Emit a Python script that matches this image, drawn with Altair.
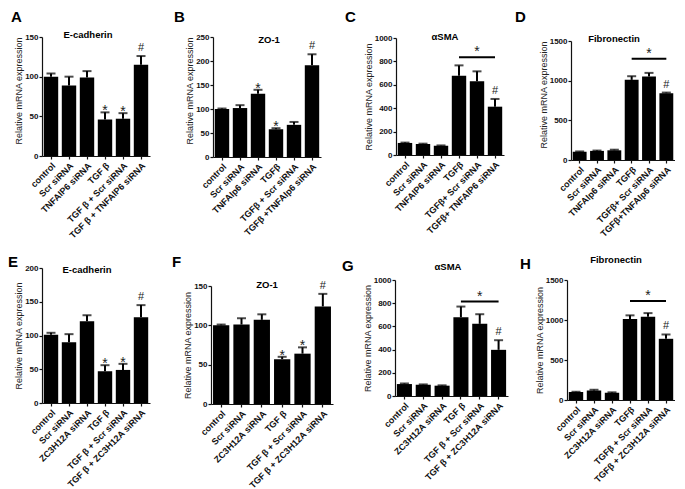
import altair as alt
import pandas as pd

FONT = "Liberation Sans"

# ---------------- data ----------------
cond_A = ["control", "Scr siRNA", "TNFAIP6 siRNA", "TGF β", "TGF β + Scr siRNA", "TGF β + TNFAIP6 siRNA"]
mean_A = [100, 89, 99, 46, 47, 115]
err_A = [4, 11, 8, 9, 7, 11]
sig_A = ["", "", "", "*", "*", "#"]

cond_B = ["control", "Scr siRNA", "TNFAIp6 siRNA", "TGFβ", "TGFβ + Scr siRNA", "TGFβ +TNFAIp6 siRNA"]
mean_B = [100, 102, 132, 58, 67, 191]
err_B = [1, 6, 8, 2, 6, 23]
sig_B = ["", "", "*", "*", "", "#"]

cond_C = ["control", "Scr siRNA", "TNFAIP6 siRNA", "TGFβ", "TGFβ+ Scr siRNA", "TGFβ+ TNFAIP6 siRNA"]
mean_C = [103, 94, 80, 678, 630, 413]
err_C = [3, 3, 2, 88, 85, 66]
sig_C = ["", "", "", "", "", "#"]
bracket_C = 835

cond_D = ["control", "Scr siRNA", "TNFAIp6 siRNA", "TGFβ", "TGFβ+ Scr siRNA", "TGFβ+TNFAIp6 siRNA"]
mean_D = [105, 115, 122, 1010, 1052, 842]
err_D = [3, 4, 8, 46, 46, 8]
sig_D = ["", "", "", "", "", "#"]
bracket_D = 1275

cond_E = ["control", "Scr siRNA", "ZC3H12A siRNA", "TGF β", "TGF β + Scr siRNA", "TGF β + ZC3H12A siRNA"]
mean_E = [101, 90, 121, 47, 49, 127]
err_E = [3, 12, 9, 9, 9, 18]
sig_E = ["", "", "", "*", "*", "#"]

cond_F = ["control", "Scr siRNA", "ZC3H12A siRNA", "TGF β", "TGF β + Scr siRNA", "TGF β + ZC3H12A siRNA"]
mean_F = [100, 101, 107, 57, 64, 124]
err_F = [1, 8, 7, 3, 8, 16]
sig_F = ["", "", "", "*", "*", "#"]

cond_G = ["control", "Scr siRNA", "ZC3H12A siRNA", "TGF β", "TGF β + Scr siRNA", "TGF β + ZC3H12A siRNA"]
mean_G = [103, 97, 89, 679, 622, 398]
err_G = [5, 3, 3, 92, 83, 83]
sig_G = ["", "", "", "", "", "#"]
bracket_G = 814

cond_H = ["control", "Scr siRNA", "ZC3H12A siRNA", "TGFβ", "TGFβ + Scr siRNA", "TGFβ + ZC3H12A siRNA"]
mean_H = [100, 118, 92, 1012, 1040, 765]
err_H = [3, 10, 4, 46, 46, 54]
sig_H = ["", "", "", "", "", "#"]
bracket_H = 1237

ticks_A = [0, 50, 100, 150]
ticks_B = [0, 50, 100, 150, 200, 250]
ticks_C = [0, 200, 400, 600, 800, 1000]
ticks_D = [0, 500, 1000, 1500]
ticks_E = [0, 50, 100, 150, 200]
ticks_F = [0, 50, 100, 150]
ticks_G = [0, 200, 400, 600, 800, 1000]
ticks_H = [0, 500, 1000, 1500]

YTITLE = "Relative mRNA expression"


def make_panel(letter, gene, cond, mean, err, sig, bracket, yvals,
               w, h, off, gap, lx, ly, gx, gy, anchor):
    df = pd.DataFrame({"cond": cond, "mean": mean, "err": err, "sig": sig})
    df["top"] = df["mean"] + df["err"]

    xs = alt.Scale(domain=cond, range=[0, w], paddingInner=0.2, paddingOuter=0.1)
    xaxis = alt.Axis(title=None, labelAngle=-45, labelAlign="right",
                     labelBaseline="top", labelPadding=2, tickSize=3,
                     labelLimit=300, labelFontSize=9)
    ys = alt.Scale(domain=[0, yvals[-1]], nice=False, range=[off + h, off])
    yaxis = alt.Axis(title=YTITLE, values=yvals, format="d", titleAnchor=anchor,
                     tickSize=3, labelPadding=1, titlePadding=1)

    def X(field="cond"):
        return alt.X(f"{field}:N", scale=xs, axis=xaxis)

    def Y(field):
        return alt.Y(f"{field}:Q", scale=ys, axis=yaxis)

    base = alt.Chart(df)
    bars = base.mark_bar(color="black").encode(x=X(), y=Y("mean"))
    stem = base.mark_rule(color="black", strokeWidth=2).encode(
        x=X(), y=Y("mean"), y2="top:Q")
    cap = base.mark_tick(color="black", thickness=2, size=9).encode(
        x=X(), y=Y("top"))
    stars = base.transform_filter("datum.sig == '*'").mark_text(
        font=FONT, fontSize=14, baseline="alphabetic", dy=3, color="#222"
    ).encode(x=X(), y=Y("top"), text="sig:N")
    hashes = base.transform_filter("datum.sig == '#'").mark_text(
        font=FONT, fontSize=11, baseline="alphabetic", dy=-5, color="#222"
    ).encode(x=X(), y=Y("top"), text="sig:N")

    layers = [bars, stem, cap, stars, hashes]

    if bracket is not None:
        bdf = pd.DataFrame({"a": [cond[3]], "b": [cond[5]], "m": [cond[4]],
                            "y": [bracket], "s": ["*"]})
        brule = alt.Chart(bdf).mark_rule(color="black", strokeWidth=2).encode(
            x=alt.X("a:N", scale=xs, axis=xaxis, bandPosition=0.5),
            x2=alt.X2("b:N", bandPosition=0.5),
            y=Y("y"))
        bstar = alt.Chart(bdf).mark_text(
            font=FONT, fontSize=14, baseline="alphabetic", dy=-1, color="#222"
        ).encode(x=X("m"), y=Y("y"), text="s:N")
        layers += [brule, bstar]

    lab = alt.Chart(pd.DataFrame({"t": [letter]})).mark_text(
        font=FONT, fontSize=15, fontWeight="bold", align="left", baseline="top",
        color="black"
    ).encode(x=alt.value(lx), y=alt.value(ly), text="t:N")
    gen = alt.Chart(pd.DataFrame({"t": [gene]})).mark_text(
        font=FONT, fontSize=9.5, fontWeight="bold", align="center", baseline="top",
        color="black"
    ).encode(x=alt.value(gx), y=alt.value(gy), text="t:N")
    layers += [lab, gen]

    return alt.layer(*layers).properties(width=w + gap, height=h + off)


pA = make_panel("A", "E-cadherin", cond_A, mean_A, err_A, sig_A, None, ticks_A,
                108, 119, 0, 24, -31, -27, 46, -7, "end")
pB = make_panel("B", "ZO-1", cond_B, mean_B, err_B, sig_B, None, ticks_B,
                108, 120, 0, 24, -39, -27, 56, -2, "end")
pC = make_panel("C", "αSMA", cond_C, mean_C, err_C, sig_C, bracket_C, ticks_C,
                108, 117, 1, 11, -51, -27, 49, -5, "middle")
pD = make_panel("D", "Fibronectin", cond_D, mean_D, err_D, sig_D, bracket_D, ticks_D,
                104, 119, 4, 0, -56, -27, 43, -3, "end")
pE = make_panel("E", "E-cadherin", cond_E, mean_E, err_E, sig_E, None, ticks_E,
                108, 135, 0, 22, -34, -13, 45, -3, "middle")
pF = make_panel("F", "ZO-1", cond_F, mean_F, err_F, sig_F, None, ticks_F,
                122, 118, 18, 9, -39, -13, 56, 12, "middle")
pG = make_panel("G", "αSMA", cond_G, mean_G, err_G, sig_G, bracket_G, ticks_G,
                113, 116, 12, 12, -53, -9, 53, -6, "middle")
pH = make_panel("H", "Fibronectin", cond_H, mean_H, err_H, sig_H, bracket_H, ticks_H,
                108, 120, 12, 0, -47, -11, 49, -13, "middle")

row1 = alt.hconcat(pA, pB, pC, pD, spacing=0)
row2 = alt.hconcat(pE, pF, pG, pH, spacing=0)

chart = alt.vconcat(row1, row2, spacing=14).properties(
    padding={"top": 2, "left": 0, "right": 0, "bottom": 4}
).configure_view(stroke=None).configure_axis(
    labelFont=FONT, labelFontSize=8, labelFontWeight="bold", labelColor="#111",
    titleFont=FONT, titleFontSize=9, titleFontWeight="normal", titleColor="#222",
    domainColor="#111", tickColor="#111", domainWidth=1.2, tickWidth=1.2,
    grid=False
)

chart.save("out.html", embed_options={"renderer": "svg", "actions": False})
